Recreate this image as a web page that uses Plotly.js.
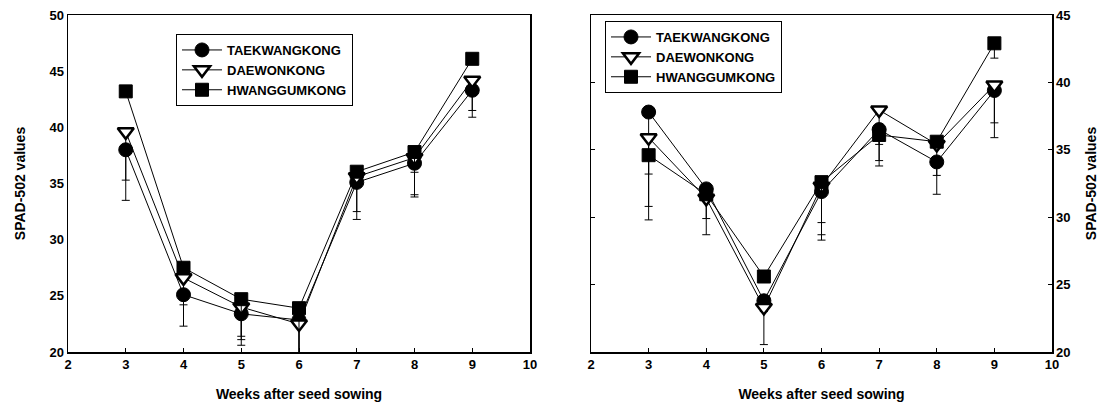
<!DOCTYPE html>
<html>
<head>
<meta charset="utf-8">
<script src="https://cdn.plot.ly/plotly-3.0.1.min.js"></script>
<style>html,body{margin:0;padding:0;background:#fff;}#chart{width:1106px;height:408px;}</style>
</head>
<body>
<div id="chart"></div>
<script>
const weeks = [3, 4, 5, 6, 7, 8, 9];
const seriesNames = ["TAEKWANGKONG", "DAEWONKONG", "HWANGGUMKONG"];

// Left panel
const leftTaekwang = [38.0, 25.1, 23.4, 22.85, 35.1, 36.8, 43.3];
const leftDaewon   = [39.6, 26.6, 24.0, 22.5, 35.6, 37.3, 44.2];
const leftHwanggum = [43.2, 27.5, 24.7, 23.9, 36.05, 37.8, 46.1];
const leftTaekwangErr = [4.5, 2.8, 2.8, 3.5, 3.3, 3.0, 2.4];
const leftDaewonErr   = [4.3, 2.4, 2.9, 3.0, 3.1, 3.3, 2.7];
const leftHwanggumErr = [0.4, 0.4, 3.3, 4.2, 0.4, 1.8, 0.4];

// Right panel
const rightTaekwang = [37.8, 32.1, 23.8, 31.9, 36.5, 34.1, 39.4];
const rightDaewon   = [35.9, 31.4, 23.3, 32.3, 37.95, 35.4, 39.8];
const rightHwanggum = [34.6, 31.7, 25.6, 32.6, 36.1, 35.6, 42.9];
const rightTaekwangErr = [7.0, 3.4, 0.8, 3.6, 2.7, 2.4, 3.5];
const rightDaewonErr   = [6.1, 1.5, 2.75, 3.6, 3.75, 2.3, 2.8];
const rightHwanggumErr = [1.4, 0.4, 0.4, 3.0, 0.7, 0.3, 1.1];

const markers = [
  {symbol: "circle", size: 14, color: "#000", line: {color: "#000", width: 1}},
  {symbol: "triangle-down", size: 14, color: "#fff", line: {color: "#000", width: 2.5}},
  {symbol: "square", size: 13, color: "#000", line: {color: "#000", width: 1}}
];

function mk(y, err, i, xa, ya, legend, show) {
  return {
    x: weeks, y: y, name: seriesNames[i], type: "scatter", mode: "lines+markers",
    xaxis: xa, yaxis: ya, legend: legend, showlegend: show,
    line: {color: "#000", width: 1},
    marker: markers[i],
    error_y: {type: "data", symmetric: false, array: weeks.map(() => 0), arrayminus: err,
              color: "#000", thickness: 1, width: 4}
  };
}

const data = [
  mk(leftTaekwang, leftTaekwangErr, 0, "x", "y", "legend", true),
  mk(leftDaewon, leftDaewonErr, 1, "x", "y", "legend", true),
  mk(leftHwanggum, leftHwanggumErr, 2, "x", "y", "legend", true),
  mk(rightTaekwang, rightTaekwangErr, 0, "x2", "y2", "legend2", true),
  mk(rightDaewon, rightDaewonErr, 1, "x2", "y2", "legend2", true),
  mk(rightHwanggum, rightHwanggumErr, 2, "x2", "y2", "legend2", true)
];

const fam = "Liberation Sans, Arial, sans-serif";
const tickFont = {family: fam, size: 13, color: "#000", weight: "bold"};
const titleFont = {family: fam, size: 14, color: "#000", weight: "bold"};
const legendFont = {family: fam, size: 13, color: "#000", weight: "bold"};

const yd = [56/408, 393/408];
function xAxis(domain, anchor) {
  return {
    domain: domain, anchor: anchor, range: [2, 10], dtick: 1, tick0: 2,
    showgrid: false, zeroline: false, showline: true, linecolor: "#000", linewidth: 1.5,
    mirror: true, ticks: "inside", ticklen: 4, tickcolor: "#000",
    tickfont: tickFont, automargin: false,
    title: {text: "Weeks after seed sowing", font: titleFont, standoff: 18}
  };
}

const layout = {
  width: 1106, height: 408,
  margin: {l: 0, r: 0, t: 0, b: 0},
  paper_bgcolor: "#fff", plot_bgcolor: "#fff",
  showlegend: true,
  xaxis: xAxis([68/1106, 530/1106], "y"),
  yaxis: {
    domain: yd, anchor: "x", range: [20, 50], dtick: 5,
    showgrid: false, zeroline: false, showline: true, linecolor: "#000", linewidth: 1.5,
    mirror: true, ticks: "", tickfont: tickFont, automargin: false,
    title: {text: "SPAD-502 values", font: titleFont, standoff: 20}
  },
  xaxis2: xAxis([591/1106, 1052/1106], "y2"),
  yaxis2: {
    domain: yd, anchor: "x2", side: "right", range: [20, 45], dtick: 5,
    showgrid: false, zeroline: false, showline: true, linecolor: "#000", linewidth: 1.5,
    mirror: "ticks", ticks: "inside", ticklen: 4, tickcolor: "#000",
    tickfont: tickFont, automargin: false,
    title: {text: "SPAD-502 values", font: titleFont, standoff: 16}
  },
  legend: {
    x: 176/1106, y: 374/408, xanchor: "left", yanchor: "top",
    bordercolor: "#000", borderwidth: 1, bgcolor: "#fff",
    font: legendFont, tracegroupgap: 0, itemwidth: 40
  },
  legend2: {
    x: 605/1106, y: 387/408, xanchor: "left", yanchor: "top",
    bordercolor: "#000", borderwidth: 1, bgcolor: "#fff",
    font: legendFont, tracegroupgap: 0, itemwidth: 40
  }
};

Plotly.newPlot("chart", data, layout, {staticPlot: true, displayModeBar: false});
</script>
</body>
</html>
